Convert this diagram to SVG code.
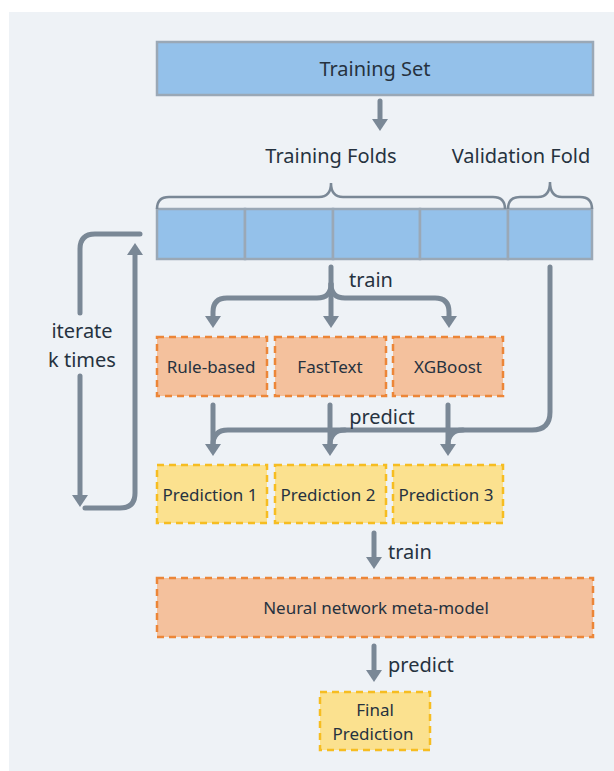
<svg xmlns="http://www.w3.org/2000/svg" width="614" height="771" viewBox="0 0 614 771">
<style>
text{font-family:"Noto Sans","DejaVu Sans",sans-serif;fill:#26323f;text-anchor:middle;}
.blue{fill:#94c1ea;stroke:#9aa8b6;stroke-width:2.5;}
.orange{fill:#f4c19d;stroke:#ec8638;stroke-width:2.5;stroke-dasharray:7 5;}
.yellow{fill:#fbe18f;stroke:#f6bd21;stroke-width:2.5;stroke-dasharray:7 5;}
.con{fill:none;stroke:#7a8896;stroke-width:5;stroke-linecap:round;stroke-linejoin:round;}
.brace{fill:none;stroke:#7a8896;stroke-width:2.5;}
.lbl{font-size:20px;}
.box{font-size:17px;}
.st{text-anchor:start;}
</style>
<defs>
<marker id="ah" viewBox="0 0 12 16" markerWidth="12" markerHeight="16" refX="2" refY="8" orient="auto" markerUnits="userSpaceOnUse">
<path d="M0,0 L12,8 L0,16 z" fill="#7a8896"/>
</marker>
</defs>
<rect x="9" y="12" width="605" height="759" fill="#eef2f6"/>

<g id="training-set">
<rect class="blue" x="157" y="42" width="436" height="53"/>
<text class="lbl" x="375" y="76">Training Set</text>
</g>

<g id="folds">
<rect class="blue" x="157" y="209" width="88" height="50"/>
<rect class="blue" x="245" y="209" width="88" height="50"/>
<rect class="blue" x="333" y="209" width="87" height="50"/>
<rect class="blue" x="420" y="209" width="88" height="50"/>
<rect class="blue" x="508" y="209" width="84" height="50"/>
</g>

<g id="training-folds-label">
<path class="brace" d="M157,209 Q157,197 169,197 H319 Q331,197 331,183 Q331,197 343,197 H493 Q505,197 505,209"/>
<text class="lbl" x="331" y="163">Training Folds</text>
</g>
<g id="validation-fold-label">
<path class="brace" d="M508,209 Q508,197 520,197 H538 Q550,197 550,182 Q550,197 562,197 H580 Q592,197 592,209"/>
<text class="lbl" x="521" y="163">Validation Fold</text>
</g>

<g id="rule-based">
<rect class="orange" x="157" y="337" width="110" height="59"/>
<text class="box" x="211" y="373">Rule-based</text>
</g>
<g id="fasttext">
<rect class="orange" x="275" y="337" width="111" height="59"/>
<text class="box" x="330" y="373">FastText</text>
</g>
<g id="xgboost">
<rect class="orange" x="393" y="337" width="110" height="59"/>
<text class="box" x="448" y="373">XGBoost</text>
</g>

<g id="prediction-1">
<rect class="yellow" x="157" y="465" width="110" height="58"/>
<text class="box" x="210" y="501">Prediction 1</text>
</g>
<g id="prediction-2">
<rect class="yellow" x="275" y="465" width="111" height="58"/>
<text class="box" x="328" y="501">Prediction 2</text>
</g>
<g id="prediction-3">
<rect class="yellow" x="393" y="465" width="110" height="58"/>
<text class="box" x="446" y="501">Prediction 3</text>
</g>

<g id="meta-model">
<rect class="orange" x="157" y="578" width="436" height="59"/>
<text class="box" x="376" y="614">Neural network meta-model</text>
</g>

<g id="final-prediction">
<rect class="yellow" x="320" y="692" width="110" height="58"/>
<text class="box" x="375" y="716">Final</text>
<text class="box" x="373" y="740">Prediction</text>
</g>

<g id="connectors">
<path class="con" d="M380,101 V121" marker-end="url(#ah)"/>
<path class="con" d="M331,267 V318" marker-end="url(#ah)"/>
<path class="con" d="M331,284 Q331,298 317,298 H227 Q213,298 213,312 V318" marker-end="url(#ah)"/>
<path class="con" d="M331,284 Q331,298 345,298 H435 Q449,298 449,312 V318" marker-end="url(#ah)"/>
<path class="con" d="M550,267 V412 Q550,430 532,430 H228 Q213,430 213,445 V446" marker-end="url(#ah)"/>
<path class="con" d="M213,405 V446"/>
<path class="con" d="M330,405 V446" marker-end="url(#ah)"/>
<path class="con" d="M345,430 Q330,430 330,445"/>
<path class="con" d="M448,405 V446" marker-end="url(#ah)"/>
<path class="con" d="M463,430 Q448,430 448,445"/>
<path class="con" d="M140,234 H95 Q80,234 80,249 V313"/>
<path class="con" d="M80,376 V497" marker-end="url(#ah)"/>
<path class="con" d="M85,508 H120 Q135,508 135,493 V253" marker-end="url(#ah)"/>
<path class="con" d="M374,533 V559" marker-end="url(#ah)"/>
<path class="con" d="M374,646 V672" marker-end="url(#ah)"/>
</g>

<g id="edge-labels">
<text class="lbl" x="371" y="287">train</text>
<text class="lbl" x="382" y="424">predict</text>
<text class="lbl" x="82" y="338">iterate</text>
<text class="lbl" x="82" y="367">k times</text>
<text class="lbl st" x="388" y="559">train</text>
<text class="lbl st" x="388" y="672">predict</text>
</g>
</svg>
